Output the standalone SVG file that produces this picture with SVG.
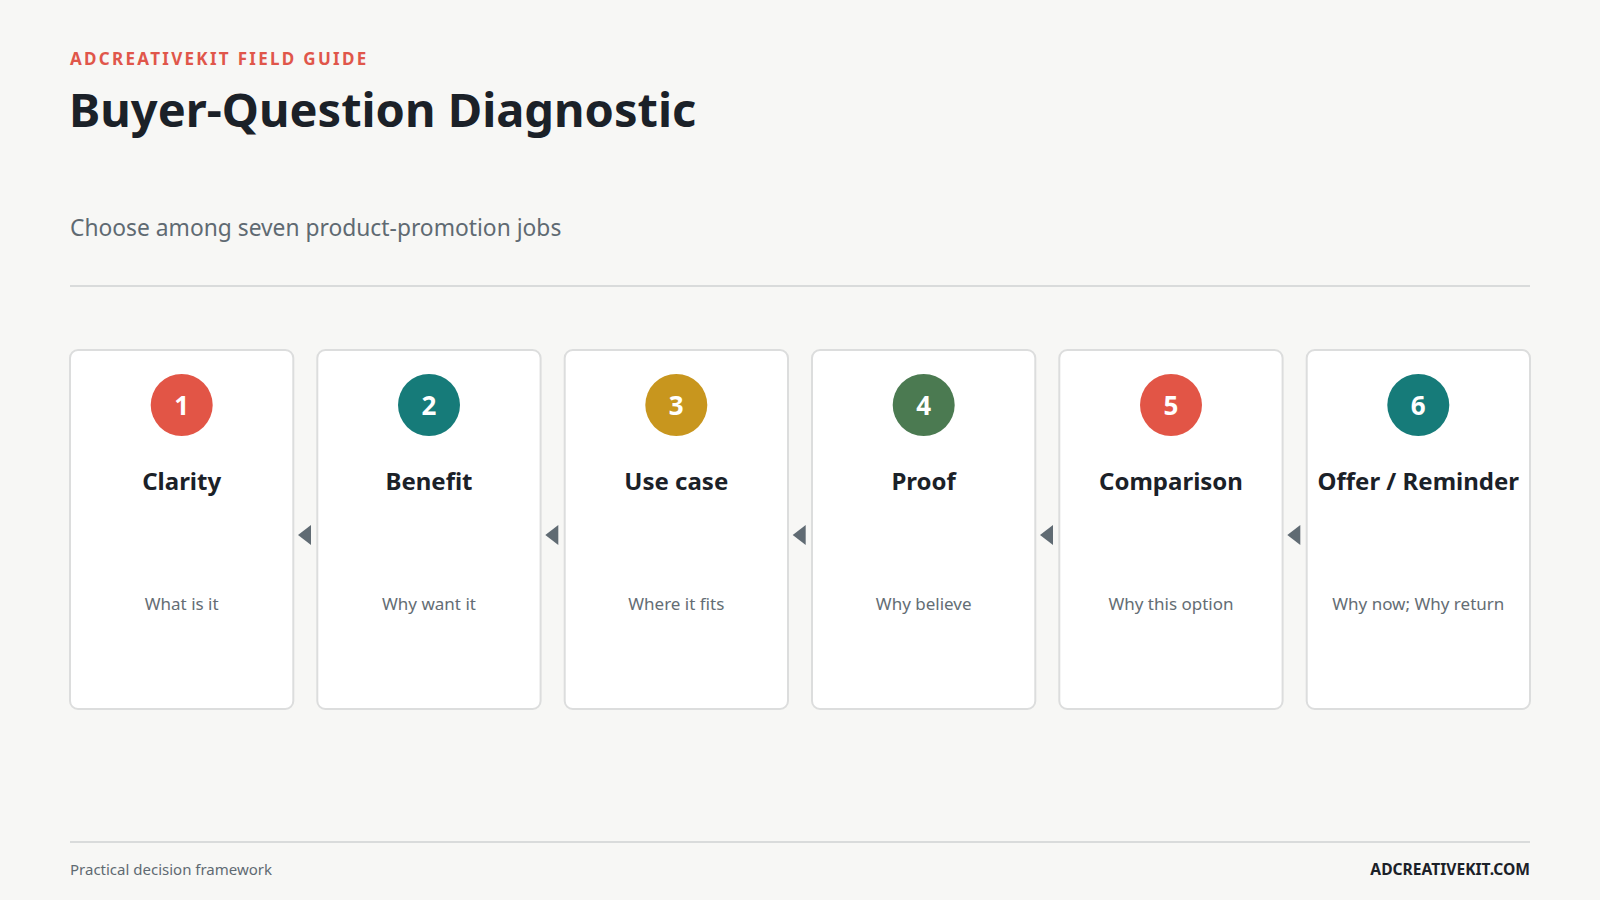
<svg xmlns="http://www.w3.org/2000/svg" width="1600" height="900" viewBox="0 0 1600 900">
<style>
.bg{fill:#f7f7f5}
.card{fill:#ffffff;stroke:#dcdddd;stroke-width:2}
.num{font-family:"Noto Sans","Open Sans",sans-serif;font-weight:700;font-size:26px;fill:#ffffff;text-anchor:middle}
.ttl{font-family:"Noto Sans","Open Sans",sans-serif;font-weight:700;font-size:24px;fill:#1b2128;text-anchor:middle}
.desc{font-family:"Noto Sans","Open Sans",sans-serif;font-size:17px;fill:#646d74;text-anchor:middle}
.arrow{fill:#606b73}
.rule{stroke:#d9dbdb;stroke-width:2}
</style>
<rect class="bg" x="0" y="0" width="1600" height="900"/>
<g id="header">
<text x="70" y="65" font-family="Noto Sans, Open Sans, sans-serif" font-weight="700" font-size="17" letter-spacing="2.3" fill="#e0564a">ADCREATIVEKIT FIELD GUIDE</text>
<text x="69" y="127" font-family="Noto Sans, Open Sans, sans-serif" font-weight="700" font-size="47" fill="#1b2128">Buyer-Question Diagnostic</text>
<text x="70" y="236" font-family="Noto Sans, Open Sans, sans-serif" font-size="22.8" fill="#5f6a72">Choose among seven product-promotion jobs</text>
<line class="rule" x1="70" y1="286" x2="1530" y2="286"/>
</g>
<g id="connectors">
<polygon class="arrow" points="298,535 311,525 311,545"/>
<polygon class="arrow" points="545.3,535 558.3,525 558.3,545"/>
<polygon class="arrow" points="792.7,535 805.7,525 805.7,545"/>
<polygon class="arrow" points="1040,535 1053,525 1053,545"/>
<polygon class="arrow" points="1287.3,535 1300.3,525 1300.3,545"/>
</g>
<g id="node1">
<rect class="card" x="70" y="350" width="223.3" height="359" rx="8"/>
<circle cx="181.7" cy="405" r="31" fill="#e25546"/>
<text class="num" x="181.7" y="414.5">1</text>
<text class="ttl" x="181.7" y="490">Clarity</text>
<text class="desc" x="181.7" y="610">What is it</text>
</g>
<g id="node2">
<rect class="card" x="317.3" y="350" width="223.3" height="359" rx="8"/>
<circle cx="429" cy="405" r="31" fill="#167b79"/>
<text class="num" x="429" y="414.5">2</text>
<text class="ttl" x="429" y="490">Benefit</text>
<text class="desc" x="429" y="610">Why want it</text>
</g>
<g id="node3">
<rect class="card" x="564.7" y="350" width="223.3" height="359" rx="8"/>
<circle cx="676.3" cy="405" r="31" fill="#c8961e"/>
<text class="num" x="676.3" y="414.5">3</text>
<text class="ttl" x="676.3" y="490">Use case</text>
<text class="desc" x="676.3" y="610">Where it fits</text>
</g>
<g id="node4">
<rect class="card" x="812" y="350" width="223.3" height="359" rx="8"/>
<circle cx="923.7" cy="405" r="31" fill="#4b7a51"/>
<text class="num" x="923.7" y="414.5">4</text>
<text class="ttl" x="923.7" y="490">Proof</text>
<text class="desc" x="923.7" y="610">Why believe</text>
</g>
<g id="node5">
<rect class="card" x="1059.3" y="350" width="223.3" height="359" rx="8"/>
<circle cx="1171" cy="405" r="31" fill="#e25546"/>
<text class="num" x="1171" y="414.5">5</text>
<text class="ttl" x="1171" y="490">Comparison</text>
<text class="desc" x="1171" y="610">Why this option</text>
</g>
<g id="node6">
<rect class="card" x="1306.7" y="350" width="223.3" height="359" rx="8"/>
<circle cx="1418.3" cy="405" r="31" fill="#167b79"/>
<text class="num" x="1418.3" y="414.5">6</text>
<text class="ttl" x="1418.3" y="490">Offer / Reminder</text>
<text class="desc" x="1418.3" y="610">Why now; Why return</text>
</g>
<g id="footer">
<line class="rule" x1="70" y1="842" x2="1530" y2="842"/>
<text x="70" y="875" font-family="Noto Sans, Open Sans, sans-serif" font-size="15" fill="#5f6a72">Practical decision framework</text>
<text x="1530" y="875" text-anchor="end" font-family="Noto Sans, Open Sans, sans-serif" font-weight="700" font-size="15.6" fill="#1b2128">ADCREATIVEKIT.COM</text>
</g>
</svg>
